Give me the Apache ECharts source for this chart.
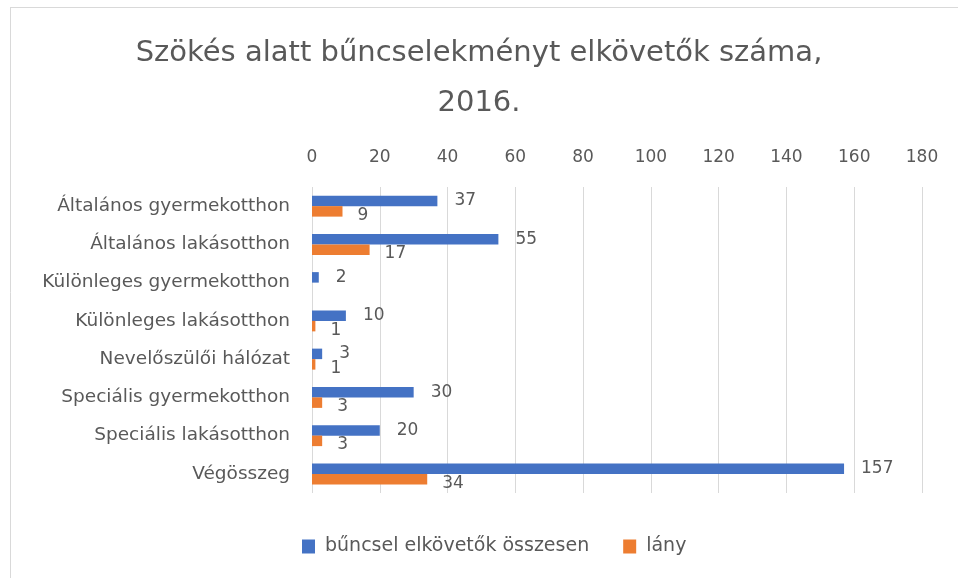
<!DOCTYPE html>
<html><head><meta charset="utf-8">
<script src="https://cdn.jsdelivr.net/npm/echarts@6/dist/echarts.min.js"></script>
<style>html,body{margin:0;padding:0;background:#fff}#c{width:958px;height:578px}</style>
</head><body><div id="c"></div>
<script>
const categories = ["Általános gyermekotthon","Általános lakásotthon","Különleges gyermekotthon","Különleges lakásotthon","Nevelőszülői hálózat","Speciális gyermekotthon","Speciális lakásotthon","Végösszeg"];
const totalValues = [37,55,2,10,3,30,20,157];
const girlValues = [9,17,null,1,1,3,3,34];
const seriesNames = ["bűncsel elkövetők összesen","lány"];
const titleText = "Szökés alatt bűncselekményt elkövetők száma,\n2016.";

const FONT = "'DejaVu Sans', sans-serif";
const GRAY = '#595959';
const chart = echarts.init(document.getElementById('c'));
chart.setOption({
  animation:false,
  backgroundColor:'#fff',
  textStyle:{fontFamily:FONT},
  title:{text:titleText,left:'center',top:23,padding:[5,5,5,21],
    textStyle:{fontFamily:FONT,fontSize:29,fontWeight:'normal',color:GRAY,lineHeight:50}},
  legend:{bottom:17,left:297,itemWidth:13,itemHeight:14,itemGap:34,icon:'rect',
    textStyle:{fontFamily:FONT,fontSize:19,color:GRAY,padding:[0,0,0,5]},data:seriesNames},
  grid:{left:312,right:36,top:187,bottom:85,containLabel:false},
  xAxis:{type:'value',position:'top',min:0,max:180,interval:20,
    axisLine:{show:false},axisTick:{show:false},
    axisLabel:{fontFamily:FONT,fontSize:17,color:GRAY,margin:21},
    splitLine:{lineStyle:{color:'#d9d9d9',width:1}}},
  yAxis:{type:'category',data:categories,inverse:true,
    axisLine:{show:false},axisTick:{show:false},
    axisLabel:{fontFamily:FONT,fontSize:18.5,color:GRAY,margin:22}},
  series:[
    {name:seriesNames[0],type:'bar',data:totalValues,barWidth:10.5,barGap:'0%',
     itemStyle:{color:'#4472C4'},
     label:{show:true,position:'right',distance:17,fontFamily:FONT,fontSize:17,color:GRAY}},
    {name:seriesNames[1],type:'bar',data:girlValues,barWidth:10.5,
     itemStyle:{color:'#ED7D31'},
     label:{show:true,position:'right',distance:15,offset:[0,4],fontFamily:FONT,fontSize:17,color:GRAY}}
  ],
  graphic:[
    {type:'line',shape:{x1:10,y1:7.5,x2:958,y2:7.5},style:{stroke:'#d9d9d9',lineWidth:1}},
    {type:'line',shape:{x1:10.5,y1:7,x2:10.5,y2:578},style:{stroke:'#d9d9d9',lineWidth:1}}
  ]
});
</script></body></html>
